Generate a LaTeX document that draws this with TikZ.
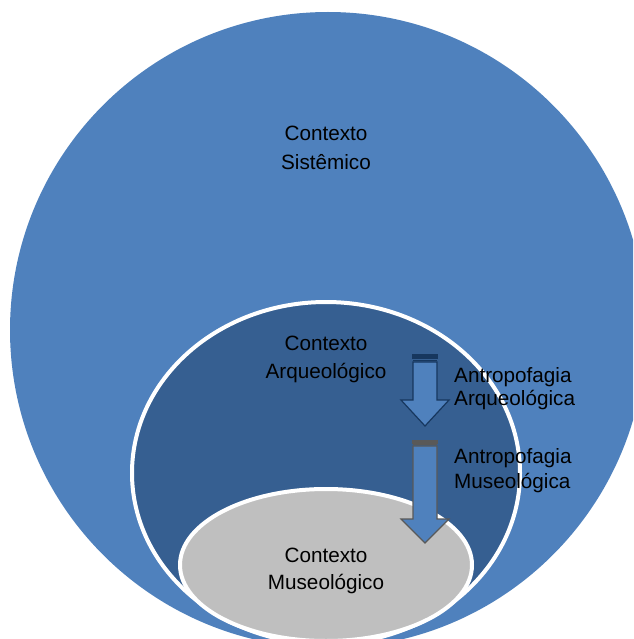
\documentclass[tikz,border=0pt]{standalone}
\usepackage{fontspec}
\setmainfont{Liberation Sans}

\definecolor{sysblue}{RGB}{79,129,189}
\definecolor{arqblue}{RGB}{54,95,145}
\definecolor{musgray}{RGB}{191,191,191}
\definecolor{arqline}{RGB}{23,55,94}
\definecolor{musline}{RGB}{89,89,89}

\begin{document}
\begin{tikzpicture}[x=1pt, y=-1pt,
    txt/.style={font=\fontsize{20.7}{25}\selectfont, inner sep=0pt, anchor=base},
    ring/.style={draw=white, line width=4pt},
    arqarrow/.style={draw=arqline, line width=1.2pt},
    musarrow/.style={draw=musline, line width=1.2pt}]

    \useasboundingbox (0,0) rectangle (633,639);
    \clip (0,0) rectangle (633,639);

    \fill[sysblue] (328,330) ellipse [x radius=318pt, y radius=318pt];

    \draw[ring, fill=arqblue] (326,473) ellipse [x radius=194pt, y radius=171pt];

    \draw[ring, fill=musgray] (326,565) ellipse [x radius=146pt, y radius=76pt];

    % arrow between systemic and archaeological context
    \draw[arqarrow, fill=arqline] (413,355) rectangle (437,358);
    \draw[arqarrow] (413,360.5) -- (437,360.5);
    \draw[arqarrow, fill=sysblue] (413,362) -- (437,362) -- (437,400) -- (449,400)
        -- (425,426) -- (401,400) -- (413,400) -- cycle;

    % arrow down to the museum
    \draw[musarrow, fill=musline] (413,441) rectangle (437,443);
    \draw[musarrow] (413,444.5) -- (437,444.5);
    \draw[musarrow, fill=sysblue] (413,446) -- (437,446) -- (437,519) -- (449,519)
        -- (425,543) -- (401,519) -- (413,519) -- cycle;

    \node[txt] (sis1) at (326,141) {Contexto};
    \node[txt] (sis2) at (326,170) {Sistêmico};

    \node[txt] (arq1) at (326,350) {Contexto};
    \node[txt] (arq2) at (326,378) {Arqueológico};

    \node[txt] (mus1) at (326,562) {Contexto};
    \node[txt] (mus2) at (326,589) {Museológico};

    \node[txt, anchor=base west] (antarq1) at (454,382) {Antropofagia};
    \node[txt, anchor=base west] (antarq2) at (454,405) {Arqueológica};

    \node[txt, anchor=base west] (antmus1) at (454,463) {Antropofagia};
    \node[txt, anchor=base west] (antmus2) at (454,488) {Museológica};

\end{tikzpicture}
\end{document}
